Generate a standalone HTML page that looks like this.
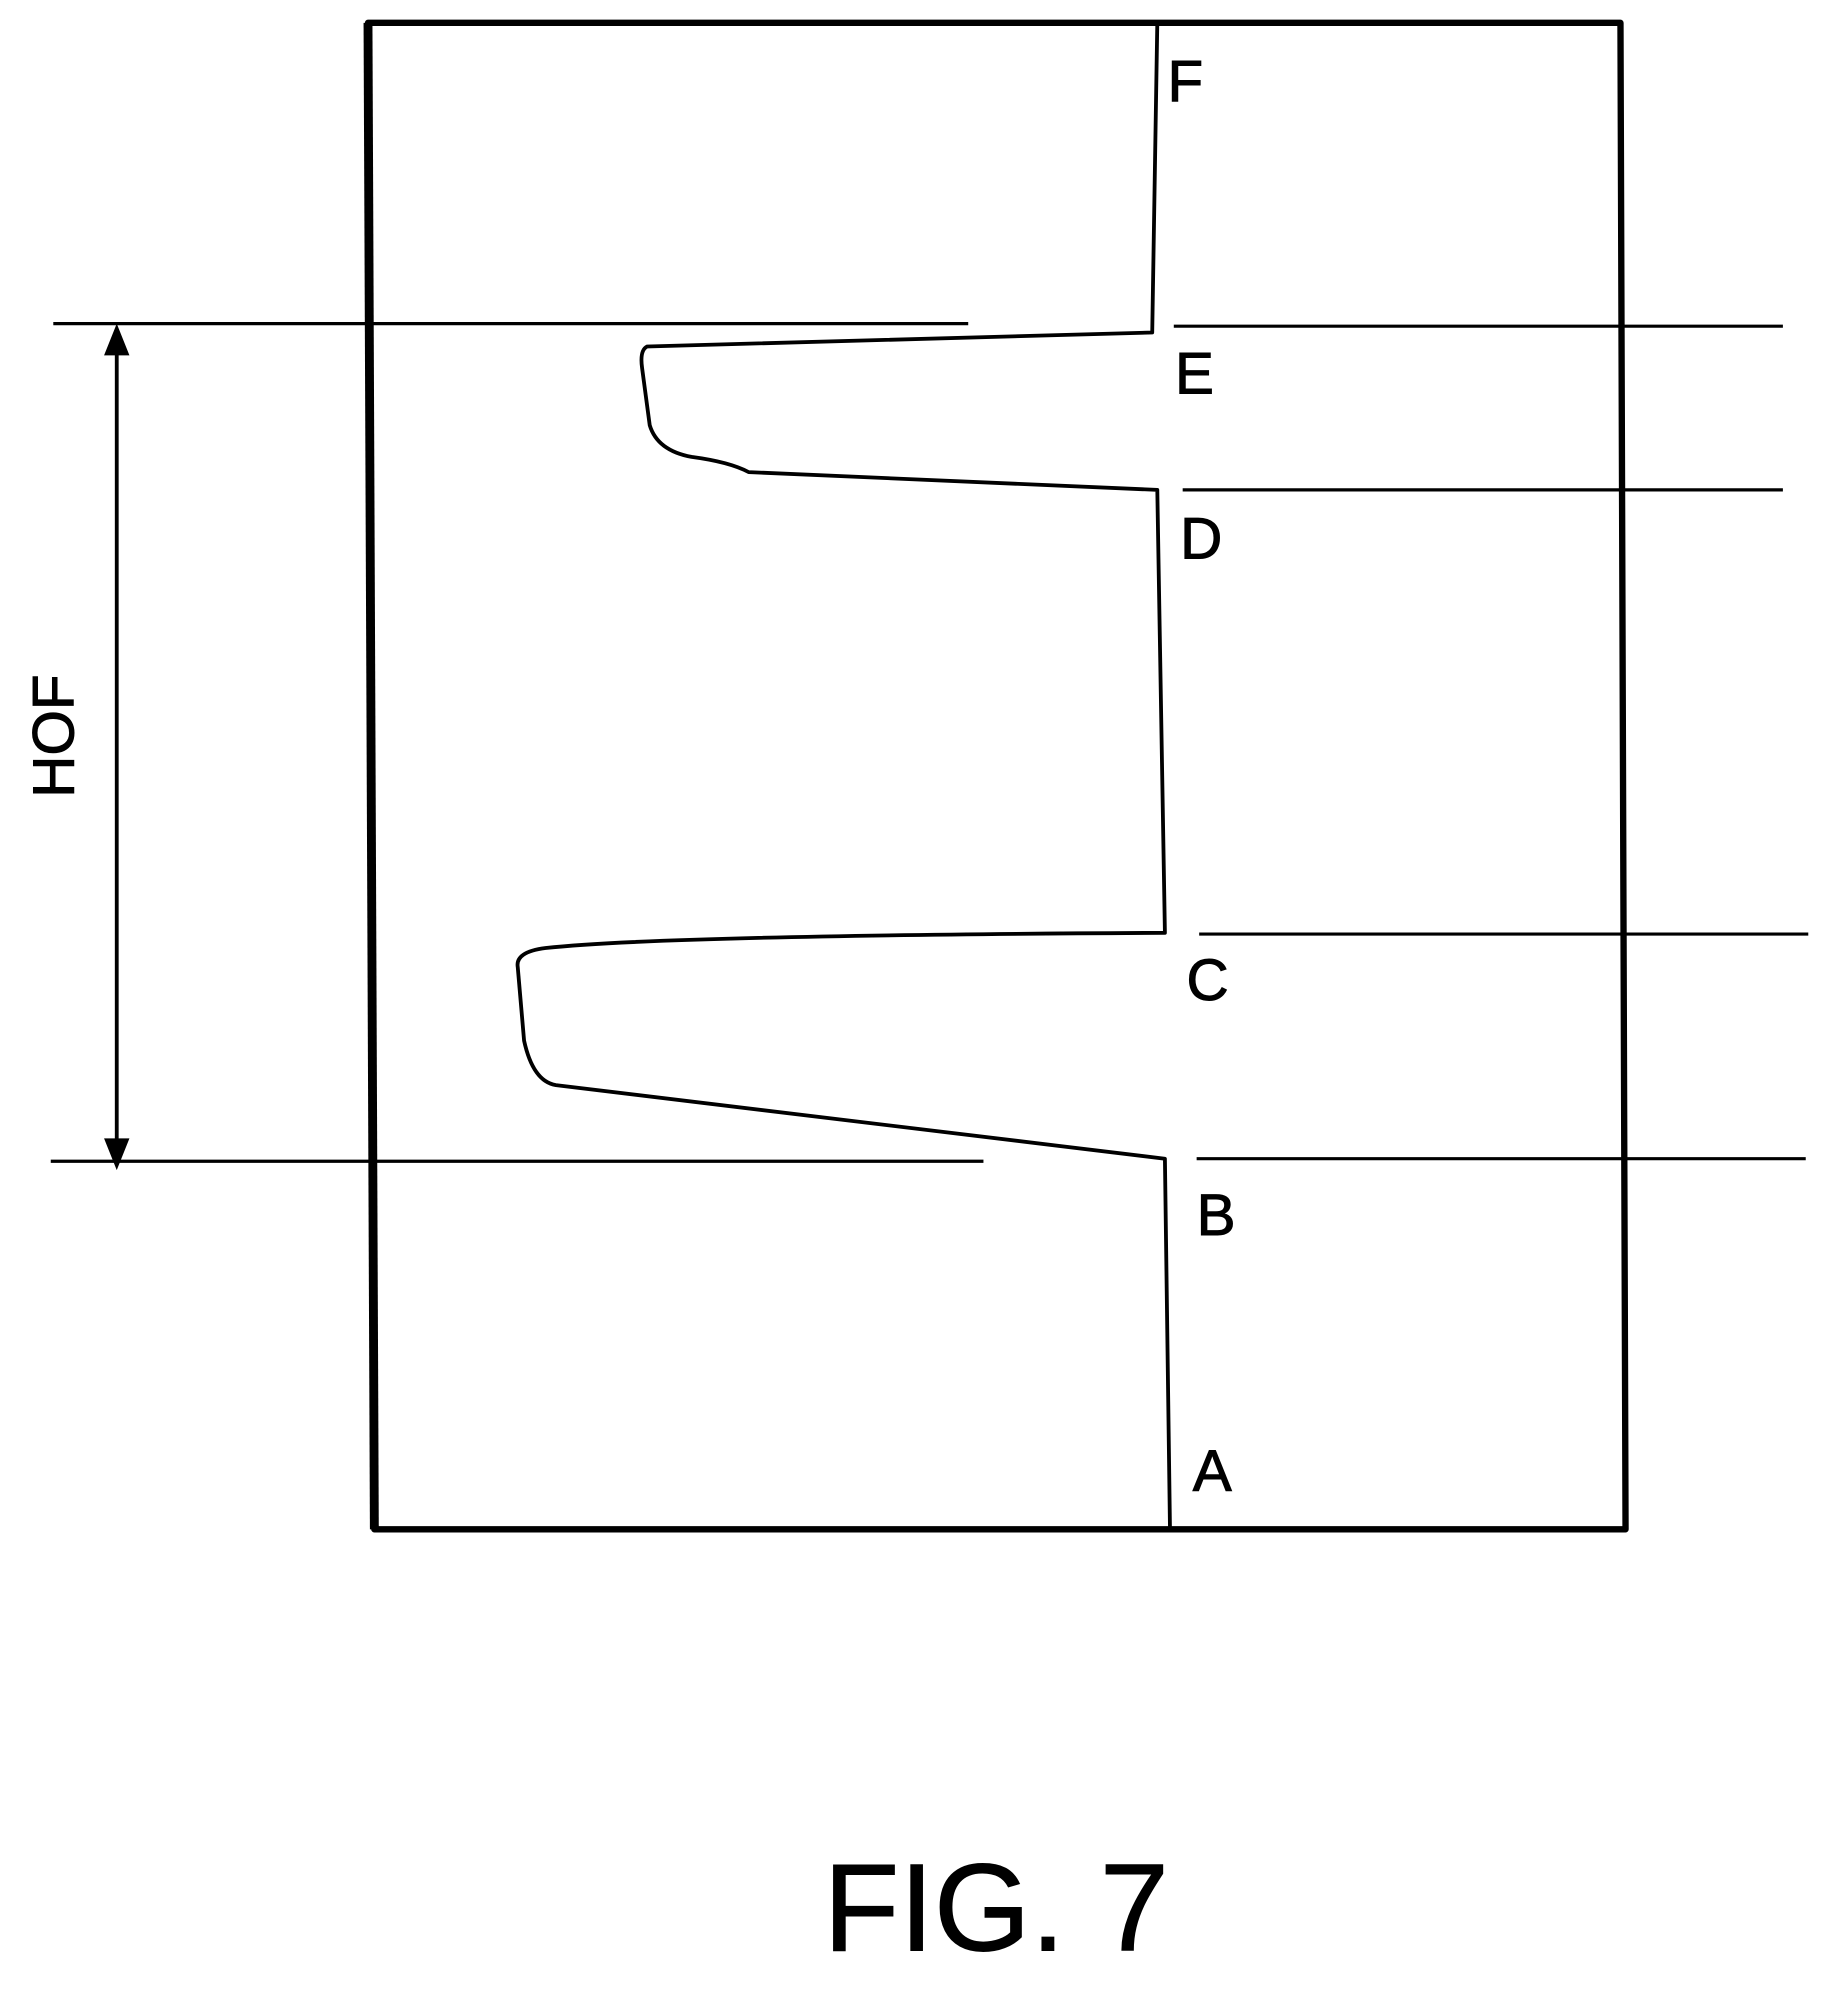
<!DOCTYPE html>
<html><head><style>html,body{margin:0;padding:0;background:#fff}svg{display:block}</style></head>
<body>
<svg width="1840" height="1990" viewBox="0 0 1450 1568" preserveAspectRatio="none" xmlns="http://www.w3.org/2000/svg">
<g fill="none" stroke="#000" stroke-linejoin="round">
<path d="M290,18 L912,18 L1277,18 L1281,1205 L295,1205 Z" stroke-width="5"/>
<path d="M295,1205 L290,18" stroke-width="7"/>
<path d="M912,18 L908,262 L510,273 Q504,276 506,290 L512,335 Q518,355 545,360 Q575,364 590,372 L912,386 L918,735 Q520,737 430,747 Q406,750 408,762 L413,820 Q420,852 438,855 L918,913 L922,1205" stroke-width="3"/>
<g stroke-width="2.5">
<line x1="42" y1="255" x2="763" y2="255"/>
<line x1="925" y1="257" x2="1405" y2="257"/>
<line x1="932" y1="386" x2="1405" y2="386"/>
<line x1="945" y1="736" x2="1425" y2="736"/>
<line x1="40" y1="915" x2="775" y2="915"/>
<line x1="943" y1="913" x2="1423" y2="913"/>
<line x1="92" y1="265" x2="92" y2="905" stroke-width="3"/>
</g>
</g>
<path d="M92,255 L82,280 L102,280 Z M92,922 L82,897 L102,897 Z" fill="#000"/>
<g font-family="Liberation Sans, sans-serif" font-size="46" fill="#000" stroke="#000" stroke-width="0.8">
<text x="920" y="80">F</text>
<text x="926" y="310">E</text>
<text x="930" y="440">D</text>
<text x="935" y="788">C</text>
<text x="943" y="973">B</text>
<text x="940" y="1175">A</text>
<text transform="translate(58,580) rotate(-90)" text-anchor="middle">HOF</text>
<text x="785" y="1537" font-size="98" text-anchor="middle">FIG. 7</text>
</g>
</svg>
</body></html>
